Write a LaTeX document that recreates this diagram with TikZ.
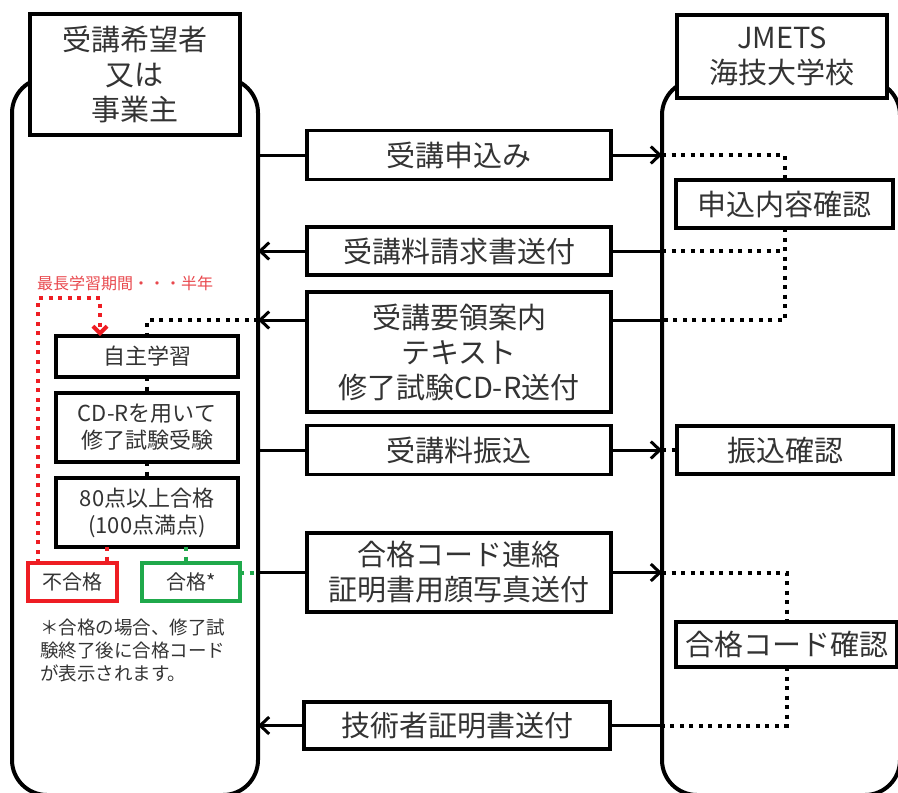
\documentclass[tikz,border=0pt]{standalone}
\usepackage{fontspec}
\setmainfont{Noto Sans CJK JP}
\usetikzlibrary{arrows.meta,calc}
\definecolor{txt}{HTML}{333333}
\definecolor{myred}{HTML}{EE1D23}
\definecolor{mygreen}{HTML}{1FA94B}
\definecolor{lblred}{HTML}{E8484D}
\begin{document}
\begin{tikzpicture}[x=1pt,y=-1pt,
  box/.style={draw, line width=3.3pt, fill=white, text=txt, align=center, inner sep=0pt, outer sep=0pt},
  big/.style={font=\fontsize{29}{35}\selectfont},
  small/.style={font=\fontsize{22}{27}\selectfont},
  cont/.style={draw, line width=4pt, rounded corners=35pt, outer sep=0pt, inner sep=0pt},
  con/.style={line width=3pt},
  arr/.style={line width=3pt, -{Straight Barb[length=9pt,width=17pt]}},
  dot/.style={line width=4pt, dash pattern=on 4pt off 5.5pt},
]
\clip (0,0) rectangle (898,793);
\useasboundingbox (0,0) rectangle (898,793);

% containers
\node[cont, minimum width=246pt, minimum height=717pt] (lc) at (135,436.5) {};
\node[cont, minimum width=238pt, minimum height=715pt] (rc) at (781,437.5) {};

% headers
\node[box,big, minimum width=210pt, minimum height=121pt] (lh) at (135,74.5) {受講希望者\\又は\\事業主};
\node[box,big, minimum width=210pt, minimum height=83pt] (rh) at (782,56.5) {JMETS\\海技大学校};

% middle boxes
\node[box,big, minimum width=304pt, minimum height=49pt] (b1) at (459,155) {受講申込み};
\node[box,big, minimum width=304pt, minimum height=48pt] (b2) at (459,251) {受講料請求書送付};
\node[box,big, minimum width=304pt, minimum height=120pt] (b3) at (459,352) {受講要領案内\\テキスト\\修了試験CD-R送付};
\node[box,big, minimum width=304pt, minimum height=49pt] (b4) at (459,450) {受講料振込};
\node[box,big, minimum width=304pt, minimum height=79pt] (b5) at (459,572.5) {合格コード連絡\\証明書用顔写真送付};
\node[box,big, minimum width=306pt, minimum height=47pt] (b6) at (457,725.5) {技術者証明書送付};

% right boxes
\node[box,big, minimum width=217pt, minimum height=48pt] (r1) at (784.5,204) {申込内容確認};
\node[box,big, minimum width=216pt, minimum height=48pt] (r2) at (785,450) {振込確認};
\node[box,big, minimum width=221pt, minimum height=45pt] (r3) at (786.5,644.5) {合格コード確認};

% left inner boxes
\node[box,small, minimum width=182pt, minimum height=41pt] (i1) at (147,356.5) {自主学習};
\node[box,small, minimum width=182pt, minimum height=69pt] (i2) at (147,427.5) {CD-Rを用いて\\修了試験受験};
\node[box,small, minimum width=182pt, minimum height=69pt] (i3) at (147,512.5) {80点以上合格\\(100点満点)};
\node[box, draw=myred, line width=3.5pt, font=\fontsize{20}{24}\selectfont, minimum width=89pt, minimum height=38pt] (fail) at (72.5,582) {不合格};
\node[box, draw=mygreen, line width=3.5pt, font=\fontsize{20}{24}\selectfont, minimum width=98pt, minimum height=38pt] (pass) at (191,582) {合格*};

% labels
\node[text=lblred, font=\fontsize{16}{18}\selectfont, anchor=west, inner sep=0pt] (lbl) at (37,283) {最長学習期間・・・半年};
\node[anchor=north west, align=left, text=txt, font=\fontsize{18.5}{23}\selectfont, inner sep=0pt] (note) at (40,619) {＊合格の場合、修了試\\験終了後に合格コード\\が表示されます。};

% helper coordinates
\coordinate (y3) at (0,320);
\coordinate (xr) at (100,0);
\coordinate (xf) at (38,0);
\coordinate (xrd) at (107,0);
\coordinate (xg) at (186,0);
\coordinate (ytop) at (0,298);

% connectors
\draw[con] (b1.west) -- (b1.west -| lc.east);
\draw[arr] (b1.east) -- (b1.east -| rc.west);
\draw[arr] (b2.west) -- (b2.west -| lc.east);
\draw[con] (b2.east) -- (b2.east -| rc.west);
\draw[arr] (b3.west |- y3) -- (lc.east |- y3);
\draw[con] (b3.east |- y3) -- (rc.west |- y3);
\draw[con] (b4.west) -- (b4.west -| lc.east);
\draw[arr] (b4.east) -- (b4.east -| rc.west);
\draw[con] (b5.west) -- (b5.west -| lc.east);
\draw[arr] (b5.east) -- (b5.east -| rc.west);
\draw[arr] (b6.west) -- (b6.west -| lc.east);
\draw[con] (b6.east) -- (b6.east -| rc.west);

% right dotted
\draw[dot] (b1.east -| rc.west) -| (r1.north);
\draw[dot] (r1.south) |- (rc.west |- y3);
\draw[dot] (b2.east -| rc.west) -- (b2.east -| r1.south);
\draw[dot] (b4.east -| rc.west) -- (r2.west);
\draw[dot] (b5.east -| rc.west) -| (r3.north);
\draw[dot] (r3.south) |- (b6.east -| rc.west);

% left dotted
\draw[dot] (lc.east |- y3) -| (i1.north);
\draw[dot] (i1.south) -- (i2.north);
\draw[dot] (i2.south) -- (i3.north);
\draw[dot, myred] (i3.south -| xrd) -- (fail.north -| xrd);
\draw[dot, mygreen] (i3.south -| xg) -- (pass.north -| xg);
\draw[dot, mygreen] (pass.east |- b5.west) -- (lc.east |- b5.west);
\draw[dot, myred, -{Straight Barb[length=7pt,width=14pt]}] (fail.north -| xf) -- (xf |- ytop) -| (i1.north -| xr);
\end{tikzpicture}
\end{document}
